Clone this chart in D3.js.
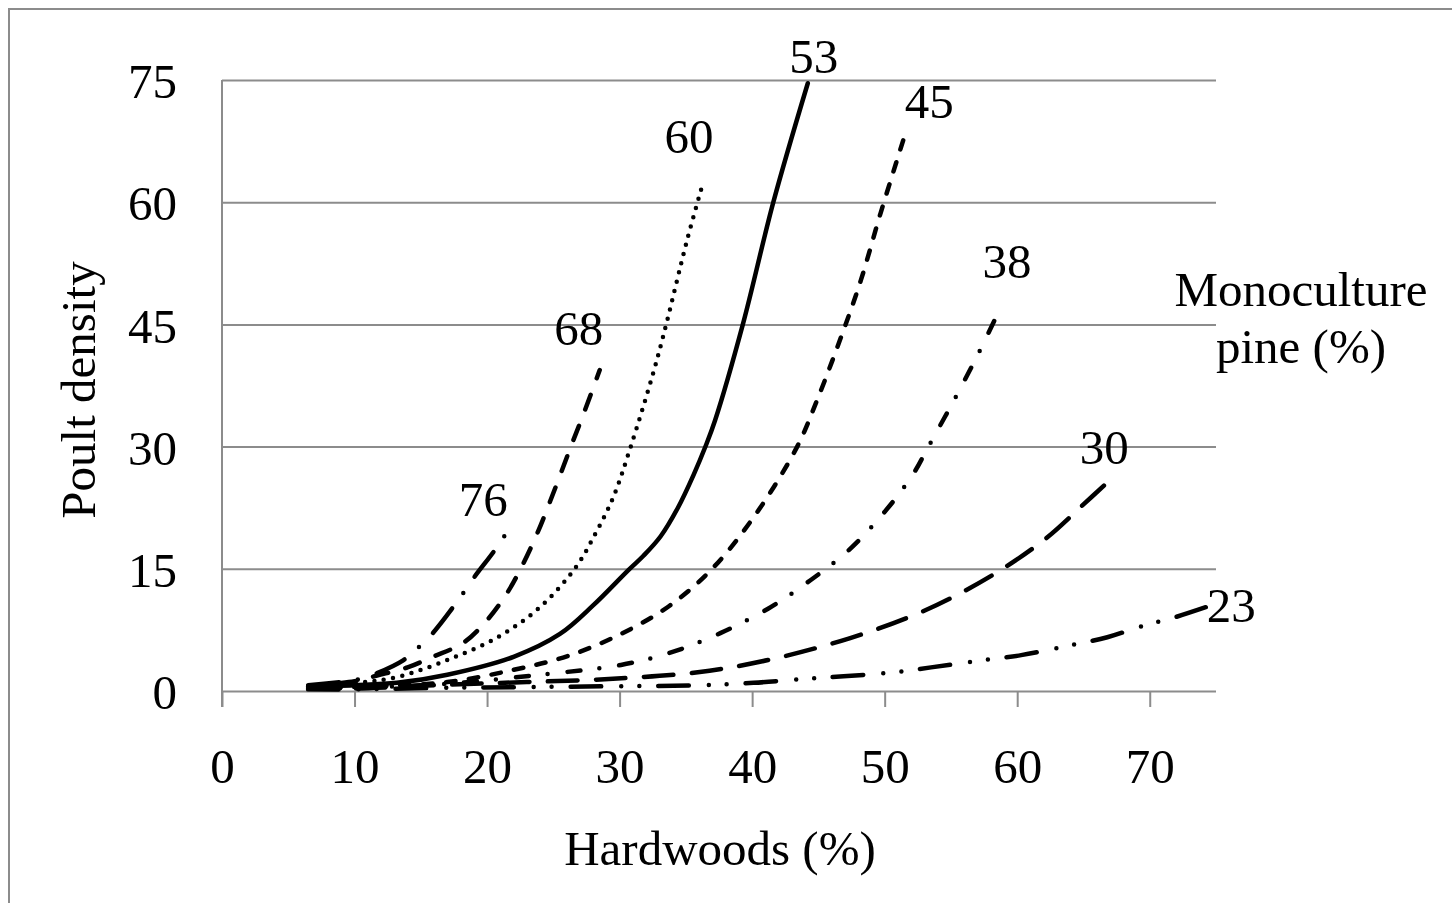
<!DOCTYPE html>
<html>
<head>
<meta charset="utf-8">
<script src="https://cdn.jsdelivr.net/npm/d3@7"></script>
<style>
    body { margin: 0; background: #fff; }
    svg { display: block; }
    text { font-family: "Liberation Serif", "Times New Roman", serif; font-size: 49px; fill: #000; }
</style>
</head>
<body>
<svg id="chart" width="1452" height="903"></svg>
<script>
// values: [hardwoods %, poult density]
const pine76 = [[6.5, 0.7], [10.2, 1.4], [11.7, 2.2], [13.7, 3.8], [14.8, 5.3], [15.9, 7.1],
    [18.2, 12.0], [19.0, 13.9], [20.5, 17.1], [21.3, 19.0]];
const pine68 = [[6.5, 0.6], [10, 1.2], [11.7, 1.9], [14.0, 2.9], [15.9, 4.2], [18.2, 5.9],
    [20.0, 8.7], [21.5, 12.0], [22.5, 14.9], [23.8, 19.4], [25.0, 24.3], [26.3, 29.9],
    [27.3, 34.1], [28.5, 39.4]];
const pine60 = [[6.5, 0.5], [10.2, 1.0], [13.2, 1.7], [17.0, 3.8], [20.8, 6.6], [24.0, 10.3],
    [26.7, 15.2], [28.2, 19.4], [29.5, 23.7], [30.9, 30.3], [32.6, 39.4], [33.5, 44.9],
    [35.1, 55.4], [36.3, 62.4]];
const pine53 = [[6.5, 0.5], [10, 0.7], [13.2, 1.0], [17.0, 2.0], [22.0, 4.2], [25.5, 7.0],
    [28.0, 10.5], [30.7, 14.9], [31.8, 16.6], [33.1, 19.0], [34.4, 22.5], [35.6, 26.6],
    [36.5, 30.1], [37.2, 33.2], [39.3, 45], [41.6, 60], [44.2, 74.6]];
const pine45 = [[6.5, 0.4], [10, 0.5], [17.0, 1.1], [22.0, 2.6], [26.1, 4.3], [30.1, 7.0],
    [33.8, 10.5], [37.1, 15.2], [40.4, 22.0], [43.4, 30.0], [44.9, 35.7], [46.9, 44.3],
    [48.2, 50.4], [49.7, 58.7], [51.4, 67.6]];
const pine38 = [[6.5, 0.3], [10, 0.4], [17.0, 0.9], [24.0, 2.0], [30.1, 3.2], [34.0, 4.8],
    [37.6, 7.1], [41.2, 10.1], [44.4, 13.6], [47.3, 17.3], [49.9, 21.8], [52.1, 26.5],
    [53.3, 30.0], [55.2, 35.6], [57.0, 41.2], [58.7, 46.9]];
const pine30 = [[6.5, 0.3], [10, 0.3], [17.2, 0.8], [23, 1.1], [29.5, 1.5], [35.9, 2.3],
    [41.2, 3.8], [47.4, 6.5], [52.2, 9.3], [55.7, 12.0], [59.0, 15.1], [62.3, 18.9],
    [65.0, 22.9], [66.8, 25.6]];
const pine23 = [[6.5, 0.2], [10, 0.2], [17.2, 0.4], [24, 0.5], [30.6, 0.6], [35.9, 0.7],
    [40.1, 1.0], [44.0, 1.5], [46.9, 1.8], [50.7, 2.3], [53.5, 2.9], [57.5, 3.8], [60.3, 4.4],
    [64.0, 5.6], [66.8, 6.6], [69.3, 7.9], [72.0, 9.1], [74.8, 10.6]];

const pineLevels = ["76", "68", "60", "53", "45", "38", "30", "23"];
const xTicks = [0, 10, 20, 30, 40, 50, 60, 70];
const yTicks = [0, 15, 30, 45, 60, 75];

const allSeries = [pine76, pine68, pine60, pine53, pine45, pine38, pine30, pine23];

// line look per series, same order as pineLevels
const dashes = ["31,19,0,20", "15.5,17.5", "0,9.5", null, "9.5,13.5", "13,19,0,20", "29.5,18.5", "30.5,20,0,18,0,19"];
// label offset from the last point (px)
const labelShift = [[-21, -20], [-21, -25], [-14, -30], [6, -10], [26, -22], [7, -31], [-3, -18], [18, 17]];

const gray = "#8c8c8c";
const svg = d3.select("#chart");

svg.append("rect")
    .attr("x", 9).attr("y", 9)
    .attr("width", 1470).attr("height", 1000)
    .attr("fill", "none").attr("stroke", gray).attr("stroke-width", 2);

const x = d3.scaleLinear().domain([0, 75]).range([222, 1216]);
const y = d3.scaleLinear().domain([0, 75]).range([691, 80]);

// y axis with gridlines
let yAxis = svg.append("g")
    .attr("transform", "translate(" + x(0) + ",0)")
    .call(d3.axisLeft(y).tickValues(yTicks).tickSize(-(x(75) - x(0))).tickPadding(45));
yAxis.select(".domain").remove();
yAxis.selectAll("line").attr("stroke", gray).attr("stroke-width", 2);
yAxis.selectAll("text").attr("dy", "0.36em");

// x axis ticks
let xAxis = svg.append("g")
    .attr("transform", "translate(0," + y(0) + ")")
    .call(d3.axisBottom(x).tickValues(xTicks).tickSize(16));
xAxis.select(".domain").remove();
xAxis.selectAll("line").attr("stroke", gray).attr("stroke-width", 2);
xAxis.selectAll("text").attr("dy", null).attr("y", 92);
svg.selectAll("g").attr("font-family", null).attr("font-size", null);

// vertical axis line
svg.append("line")
    .attr("x1", x(0)).attr("x2", x(0))
    .attr("y1", y(75)).attr("y2", y(0) + 16)
    .attr("stroke", gray).attr("stroke-width", 2);

const line = d3.line()
    .x(d => x(d[0]))
    .y(d => y(d[1]))
    .curve(d3.curveCatmullRom.alpha(0.5));

for (let i = 0; i < allSeries.length; ++i) {
    let data = allSeries[i];
    let path = svg.append("path")
        .attr("d", line(data))
        .attr("fill", "none")
        .attr("stroke", "#000")
        .attr("stroke-width", 4.5)
        .attr("stroke-linecap", "round")
        .attr("stroke-linejoin", "round");
    if (dashes[i]) {
        path.attr("stroke-dasharray", dashes[i]);
    }
    let last = data[data.length - 1];
    svg.append("text")
        .attr("x", x(last[0]) + labelShift[i][0])
        .attr("y", y(last[1]) + labelShift[i][1])
        .attr("text-anchor", "middle")
        .text(pineLevels[i]);
}

svg.append("text")
    .attr("x", 1301).attr("y", 306)
    .attr("text-anchor", "middle")
    .text("Monoculture");
svg.append("text")
    .attr("x", 1301).attr("y", 363)
    .attr("text-anchor", "middle")
    .text("pine (%)");

svg.append("text")
    .attr("x", 720).attr("y", 865)
    .attr("text-anchor", "middle")
    .text("Hardwoods (%)");

svg.append("text")
    .attr("transform", "translate(95,390) rotate(-90)")
    .attr("text-anchor", "middle")
    .text("Poult density");
</script>
</body>
</html>
